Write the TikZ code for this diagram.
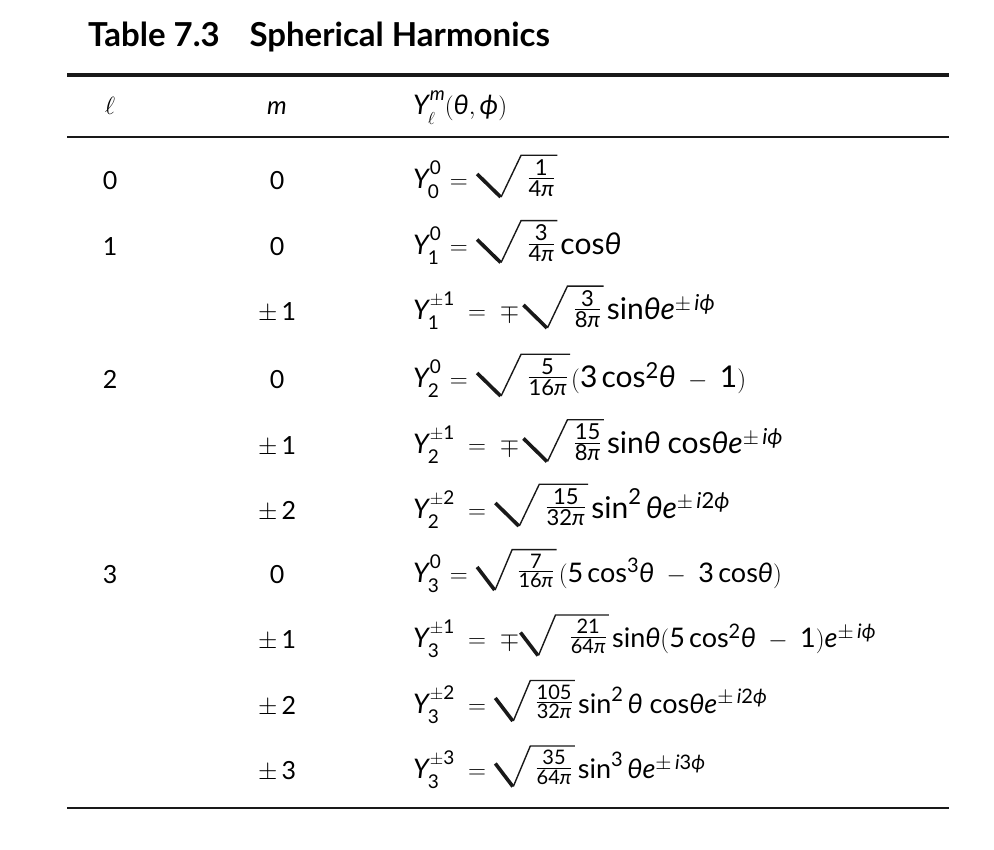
\documentclass[tikz,border=0pt]{standalone}
\usepackage{amsmath}
\usepackage{fontspec}
\setmainfont{Lato}
\usetikzlibrary{calc}
\DeclareMathSizes{27}{27}{20}{15}
\DeclareMathSizes{30}{30}{22}{16}
\newcommand\dg[1]{\text{\upshape #1}}
\newcommand\mi[1]{\text{\itshape #1}}
\newsavebox\supbox
\newsavebox\subbox
\newcommand\Yl[2]{\mi{Y}\text{\fontsize{19}{19}\selectfont
  \sbox\supbox{\raisebox{14pt}{$#2$}}\sbox\subbox{\raisebox{-10pt}{$#1$}}%
  \kern1pt\ifdim\wd\supbox>\wd\subbox
    \rlap{\kern-2pt\usebox\subbox}\usebox\supbox
  \else
    \rlap{\usebox\supbox}\kern-2pt\usebox\subbox
  \fi}}
\newcommand\thv{\mi{θ}}
\newcommand\phv{\mi{ϕ}}
\newcommand\piv{\mi{π}}
\newcommand\ee{\mi{e}}
\newcommand\ii{\mi{i}}
\newcommand\fsin{\text{sin}}
\newcommand\fcos{\text{cos}}
\newcommand\fr[2]{\frac{\dg{#1}}{\dg{#2}\piv}}
% #1 fraction node, #2 start offset, #3 vertex offset, #4 top offset (all left of the fraction)
\newcommand\radic[4]{%
  \draw[radthick] ($(#1.base west)+(-#2pt,11pt)$) -- ($(#1.base west)+(-#3pt-0.5pt,-12pt)$);
  \draw[radthin] ($(#1.base west)+(-#3pt,-12pt)$) -- ($(#1.north west)+(-#4pt,4pt)$) -- ($(#1.north east)+(2pt,4pt)$);}
\begin{document}
\begin{tikzpicture}[x=1pt,y=-1pt,
  cell/.style={inner sep=0pt,font=\fontsize{25}{30}\selectfont},
  lcol/.style={cell,anchor=base},
  fcol/.style={inner sep=0pt,anchor=base west,font=\fontsize{27}{32}\selectfont},
  fbig/.style={inner sep=0pt,anchor=base west,font=\fontsize{30}{35}\selectfont},
  frc/.style={fcol,yshift=4pt},
  frcb/.style={fbig,yshift=4pt},
  ttl/.style={inner sep=0pt,anchor=base west,font=\fontsize{33}{38}\selectfont\bfseries},
  thickrule/.style={line width=3.3pt,draw=black!90},
  thinrule/.style={line width=2pt,draw=black!90},
  radthick/.style={line width=3.6pt,draw=black!90},
  radthin/.style={line width=1.4pt,draw=black!90,line join=miter}]
\useasboundingbox (0,0) rectangle (994,850);
\node[ttl] (title) at (88,47) {Table 7.3\hspace{0.9em}Spherical Harmonics};
\coordinate (t1) at (67,75); \coordinate (t2) at (949,75);
\coordinate (h1) at (67,137); \coordinate (h2) at (949,137);
\coordinate (b1) at (67,808); \coordinate (b2) at (949,808);
\draw[thickrule] (t1) -- (t2);
\draw[thinrule] (h1) -- (h2);
\draw[thinrule,line width=2.3pt] (b1) -- (b2);
% header
\node[lcol] (hl) at (110,115) {$\ell$};
\node[lcol] (hm) at (277,115) {\itshape m};
\node[fcol] (hy) at (413,115) {$\Yl{\ell}{\mi{m}}(\thv,\phv)$};
% l column
\node[lcol] (l0) at (110,190) {0};
\node[lcol] (l1) at (110,255.5) {1};
\node[lcol] (l2) at (110,389) {2};
\node[lcol] (l3) at (110,583) {3};
% m column
\node[lcol] (m1) at (277,190) {0};
\node[lcol] (m2) at (277,255.5) {0};
\node[lcol] (m3) at (277,321) {$\pm\,\dg{1}$};
\node[lcol] (m4) at (277,389) {0};
\node[lcol] (m5) at (277,454.5) {$\pm\,\dg{1}$};
\node[lcol] (m6) at (277,519) {$\pm\,\dg{2}$};
\node[lcol] (m7) at (277,583) {0};
\node[lcol] (m8) at (277,648.5) {$\pm\,\dg{1}$};
\node[lcol] (m9) at (277,714) {$\pm\,\dg{2}$};
\node[lcol] (m10) at (277,779.5) {$\pm\,\dg{3}$};
% formulas: left part, fraction under the radical, rest
\node[fcol] (a1) at (413,189) {$\Yl{\dg{0}}{\dg{0}}\,=$};
\node[frcb] (q1) at ([xshift=59pt]a1.base east) {$\fr{1}{4}$};
\radic{q1}{50}{26}{6}
\node[fcol] (a2) at (413,254.5) {$\Yl{\dg{1}}{\dg{0}}\,=$};
\node[frcb] (q2) at ([xshift=59pt]a2.base east) {$\fr{3}{4}$};
\node[fbig] (r2) at ([xshift=5pt]q2.base east |- a2.base) {$\fcos\thv$};
\radic{q2}{50}{26}{6}
\node[fcol] (a3) at (413,320) {$\Yl{\dg{1}}{\pm\dg{1}} \;=\; \mp$};
\node[frcb] (q3) at ([xshift=54pt]a3.base east) {$\fr{3}{8}$};
\node[fbig] (r3) at ([xshift=5pt]q3.base east |- a3.base) {$\fsin\thv\ee^{\pm\,\ii\phv}$};
\radic{q3}{50}{26}{6}
\node[fcol] (a4) at (413,388) {$\Yl{\dg{2}}{\dg{0}}\,=$};
\node[frcb] (q4) at ([xshift=59pt]a4.base east) {$\fr{5}{16}$};
\node[fbig] (r4) at ([xshift=3pt]q4.base east |- a4.base) {$(\dg{3}\,\fcos^{\dg{2}}\thv \;-\; \dg{1})$};
\radic{q4}{50}{26}{6}
\node[fcol] (a5) at (413,453.5) {$\Yl{\dg{2}}{\pm\dg{1}} \;=\; \mp$};
\node[frcb] (q5) at ([xshift=54pt]a5.base east) {$\fr{15}{8}$};
\node[fbig] (r5) at ([xshift=5pt]q5.base east |- a5.base) {$\fsin\thv\;\fcos\thv\ee^{\pm\,\ii\phv}$};
\radic{q5}{50}{26}{6}
\node[fcol] (a6) at (413,518) {$\Yl{\dg{2}}{\pm\dg{2}} \;=$};
\node[frcb] (q6) at ([xshift=59pt]a6.base east) {$\fr{15}{32}$};
\node[fbig] (r6) at ([xshift=5pt]q6.base east |- a6.base) {$\fsin^{\dg{2}}\,\thv\ee^{\pm\,\ii\dg{2}\phv}$};
\radic{q6}{50}{26}{6}
\node[fcol] (a7) at (413,582) {$\Yl{\dg{3}}{\dg{0}}\,=$};
\node[frc] (q7) at ([xshift=49pt]a7.base east) {$\fr{7}{16}$};
\node[fcol] (r7) at ([xshift=4pt]q7.base east |- a7.base) {$(\dg{5}\,\fcos^{\dg{3}}\thv \;-\; \dg{3}\,\fcos\thv)$};
\radic{q7}{40}{22}{5}
\node[fcol] (a8) at (413,647.5) {$\Yl{\dg{3}}{\pm\dg{1}} \;=\; \mp$};
\node[frc] (q8) at ([xshift=50pt]a8.base east) {$\fr{21}{64}$};
\node[fcol] (r8) at ([xshift=5pt]q8.base east |- a8.base) {$\fsin\thv(\dg{5}\,\fcos^{\dg{2}}\thv \;-\; \dg{1})\ee^{\pm\,\ii\phv}$};
\radic{q8}{49}{31}{14}
\node[fcol] (a9) at (413,713) {$\Yl{\dg{3}}{\pm\dg{2}} \;=$};
\node[frc] (q9) at ([xshift=49pt]a9.base east) {$\fr{105}{32}$};
\node[fcol] (r9) at ([xshift=5pt]q9.base east |- a9.base) {$\fsin^{\dg{2}}\,\thv\;\fcos\thv\ee^{\pm\,\ii\dg{2}\phv}$};
\radic{q9}{40}{22}{5}
\node[fcol] (a10) at (413,778.5) {$\Yl{\dg{3}}{\pm\dg{3}} \;=$};
\node[frc] (q10) at ([xshift=49pt]a10.base east) {$\fr{35}{64}$};
\node[fcol] (r10) at ([xshift=5pt]q10.base east |- a10.base) {$\fsin^{\dg{3}}\,\thv\ee^{\pm\,\ii\dg{3}\phv}$};
\radic{q10}{40}{22}{5}
\end{tikzpicture}
\end{document}
